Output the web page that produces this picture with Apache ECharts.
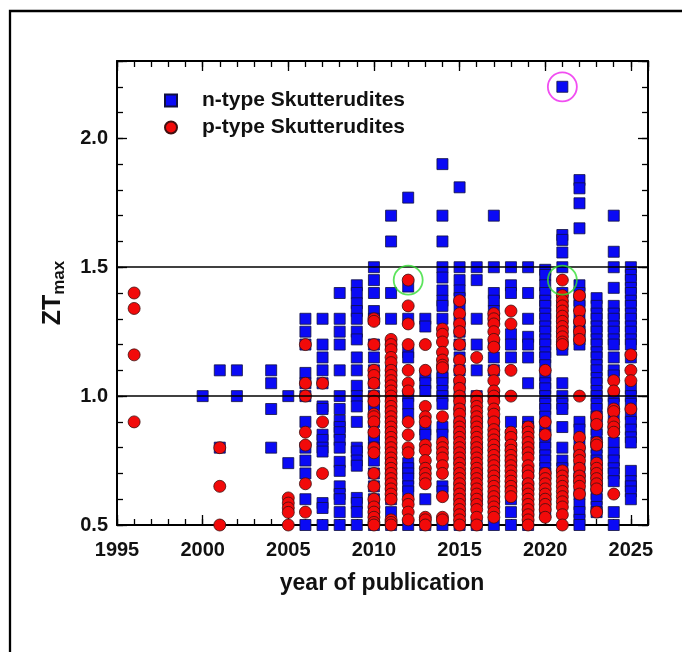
<!DOCTYPE html>
<html><head><meta charset="utf-8">
<script src="https://cdn.jsdelivr.net/npm/echarts@6/dist/echarts.min.js"></script>
<style>html,body{margin:0;padding:0;background:#fff}#c{width:682px;height:652px}</style>
</head><body><div id="c"></div>
<script>
// ---- data ----
const nYears = [2000,2001,2002,2004,2005,2006,2007,2008,2009,2010,2011,2012,2013,2014,2015,2016,2017,2018,2019,2020,2021,2022,2023,2024,2025];
const nValues = [
 [1.00],
 [1.10,0.80],
 [1.10,1.00],
 [1.10,1.05,0.95,0.80],
 [1.00,0.74],
 [1.30,1.25,1.20,1.09,1.05,1.00,0.90,0.80,0.75,0.70,0.60,0.50],
 [1.30,1.20,1.15,1.10,1.05,0.96,0.95,0.85,0.83,0.80,0.785,0.585,0.566,0.50],
 [1.40,1.30,1.25,1.20,1.10,1.00,0.95,0.905,0.88,0.86,0.83,0.80,0.745,0.71,0.65,0.62,0.60,0.55,0.50],
 [1.43,1.40,1.36,1.33,1.30,1.25,1.22,1.15,1.10,1.04,1.00,0.96,0.90,0.80,0.785,0.75,0.73,0.605,0.585,0.55,0.50],
 [1.50,1.45,1.40,1.33,1.30,1.20,1.15,1.10,1.05,1.00,0.97,0.95,0.90,0.85,0.83,0.80,0.75,0.70,0.65,0.60,0.55,0.50],
 [1.70,1.60,1.40,1.30,1.20,1.10,1.05,1.00,0.95,0.90,0.85,0.80,0.75,0.70,0.65,0.60,0.55,0.50],
 [1.77,1.425,1.30,1.17,1.15,1.00,0.97,0.93,0.74,0.72,0.70,0.68,0.65,0.63,0.50],
 [1.30,1.27,1.08,1.05,1.02,0.87,0.85,0.60,0.50],
 [1.90,1.70,1.60,1.50,1.46,1.41,1.37,1.35,1.30,1.09,1.07,1.05,1.02,1.00,0.97,0.88,0.85,0.65,0.63,0.50],
 [1.81,1.50,1.45,1.41,1.38,1.35,1.30,1.25,1.20,1.15,1.10,1.05,1.00,0.95,0.90,0.85,0.80,0.75,0.70,0.65,0.60,0.55,0.50],
 [1.50,1.45,1.30,1.20,1.10,1.00,0.90,0.80,0.70,0.60,0.50],
 [1.70,1.50,1.40,1.37,1.33,1.30,1.20,1.15,1.10,1.00,0.90,0.85,0.80,0.75,0.70,0.60,0.50],
 [1.50,1.43,1.40,1.24,1.20,1.15,0.90,0.85,0.80,0.75,0.65,0.60,0.55,0.50],
 [1.50,1.40,1.30,1.23,1.20,1.15,1.05,0.90,0.88,0.80,0.70,0.65,0.55,0.50],
 [1.49,1.47,1.43,1.40,1.37,1.35,1.32,1.30,1.27,1.25,1.22,1.20,1.17,1.15,1.12,1.08,1.05,1.03,1.00,0.97,0.95,0.92,0.88,0.85,0.82,0.80,0.77,0.75,0.72,0.70,0.60,0.55],
 [2.20,1.625,1.606,1.557,1.50,1.40,1.35,1.30,1.25,1.20,1.18,1.05,1.00,0.97,0.95,0.88,0.80,0.75,0.72],
 [1.838,1.806,1.748,1.651,1.43,1.40,1.37,1.35,1.30,1.27,1.25,1.22,1.20,0.90,0.87,0.82,0.78,0.72,0.68,0.62,0.58,0.55,0.52,0.50],
 [1.38,1.35,1.32,1.30,1.27,1.25,1.22,1.20,1.17,1.15,1.12,1.10,1.07,1.05,1.02,1.00,0.97,0.95,0.92,0.90,0.87,0.85,0.82,0.80,0.77,0.75,0.72,0.70,0.67,0.65,0.62,0.60,0.57,0.55],
 [1.70,1.56,1.50,1.42,1.35,1.32,1.30,1.27,1.25,1.22,1.20,1.15,1.10,1.08,1.00,0.97,0.93,0.87,0.82,0.78,0.75,0.72,0.70,0.67,0.55,0.50],
 [1.50,1.47,1.45,1.42,1.40,1.37,1.35,1.32,1.30,1.27,1.25,1.22,1.20,1.15,1.03,1.00,0.97,0.93,0.90,0.87,0.84,0.82,0.71,0.67,0.65,0.63,0.60]
];
const pYears = [1996,2001,2005,2006,2007,2010,2011,2012,2013,2014,2015,2016,2017,2018,2019,2020,2021,2022,2023,2024,2025];
const pValues = [
 [1.40,1.34,1.16,0.90],
 [0.80,0.65,0.50],
 [0.605,0.585,0.566,0.549,0.50],
 [1.20,1.05,1.00,0.86,0.81,0.66,0.55],
 [1.05,0.90,0.70],
 [1.30,1.29,1.20,1.10,1.08,1.05,1.00,0.98,0.93,0.92,0.90,0.86,0.80,0.78,0.70,0.65,0.60,0.57,0.55,0.53,0.51,0.50],
 [1.22,1.20,1.18,1.15,1.13,1.10,1.08,1.06,1.04,1.02,1.00,0.98,0.96,0.94,0.92,0.90,0.88,0.86,0.84,0.82,0.80,0.78,0.76,0.74,0.72,0.70,0.68,0.66,0.64,0.62,0.60,0.52,0.51,0.50],
 [1.45,1.35,1.28,1.20,1.10,1.05,1.02,0.90,0.85,0.80,0.78,0.60,0.58,0.55,0.52],
 [1.20,1.10,0.96,0.92,0.90,0.81,0.79,0.75,0.72,0.70,0.68,0.66,0.53,0.52,0.50],
 [1.26,1.24,1.21,1.17,1.14,1.12,1.11,0.92,0.82,0.80,0.78,0.76,0.73,0.70,0.61,0.53,0.52],
 [1.37,1.32,1.28,1.25,1.20,1.14,1.10,1.06,1.03,1.00,0.98,0.95,0.93,0.90,0.88,0.86,0.84,0.82,0.80,0.78,0.76,0.74,0.72,0.70,0.68,0.66,0.64,0.62,0.60,0.58,0.56,0.54,0.52,0.50],
 [1.15,1.00,0.98,0.96,0.94,0.92,0.90,0.88,0.86,0.84,0.82,0.80,0.78,0.76,0.74,0.72,0.70,0.68,0.66,0.64,0.62,0.60,0.58,0.56,0.53,0.50],
 [1.32,1.30,1.28,1.25,1.22,1.19,1.10,1.06,1.02,1.00,0.98,0.95,0.93,0.90,0.87,0.85,0.83,0.81,0.79,0.77,0.75,0.73,0.71,0.69,0.67,0.65,0.63,0.61,0.59,0.57,0.55,0.53],
 [1.33,1.28,1.10,1.00,0.86,0.84,0.81,0.79,0.77,0.75,0.73,0.71,0.69,0.67,0.65,0.63,0.61],
 [0.88,0.86,0.84,0.82,0.80,0.78,0.76,0.73,0.71,0.69,0.66,0.64,0.62,0.60,0.58,0.56,0.54,0.52,0.50],
 [1.10,0.90,0.85,0.70,0.68,0.66,0.64,0.62,0.60,0.58,0.56,0.53],
 [1.45,1.39,1.37,1.35,1.33,1.31,1.29,1.27,1.25,1.23,1.21,1.20,0.71,0.69,0.67,0.65,0.63,0.61,0.59,0.57,0.54,0.50],
 [1.39,1.33,1.29,1.25,1.22,1.00,0.84,0.80,0.77,0.75,0.72,0.69,0.67,0.65,0.62],
 [0.92,0.89,0.82,0.81,0.74,0.72,0.70,0.68,0.66,0.64,0.55],
 [1.06,1.02,0.95,0.94,0.90,0.88,0.86,0.62],
 [1.16,1.10,1.06,0.95]
];
const magentaMarks = [[2021, 2.20]];
const greenMarks = [[2012, 1.45], [2021, 1.45]];
const refLines = [1.0, 1.5];
const xLabelYears = [1995, 2000, 2005, 2010, 2015, 2020, 2025];
const yLabelValues = [0.5, 1.0, 1.5, 2.0];

// ---- build ----
function flatten(years, vals) {
  const out = [];
  years.forEach((y, i) => vals[i].forEach(v => out.push([y, v])));
  return out;
}
const nData = flatten(nYears, nValues);
const pData = flatten(pYears, pValues);

const FONT = '"Liberation Sans", Arial, sans-serif';
const near = (a, b) => Math.abs(a - b) < 1e-6;

function xAx(pos, interval, len, labels, line) {
  return {
    type: 'value', position: pos, min: 1995, max: 2026, interval: interval,
    axisLine: { show: line, onZero: false, lineStyle: { color: '#000', width: 2 } },
    axisTick: { show: true, inside: true, length: len, lineStyle: { color: '#000', width: 1.3 } },
    axisLabel: labels ? {
      show: true, margin: 15, color: '#111', fontFamily: FONT, fontWeight: 'bold', fontSize: 20,
      formatter: v => xLabelYears.some(y => near(y, v)) ? String(Math.round(v)) : ''
    } : { show: false },
    splitLine: { show: false }
  };
}
function yAx(pos, interval, len, labels, line) {
  return {
    type: 'value', position: pos, min: 0.5, max: 2.3, interval: interval,
    axisLine: { show: line, onZero: false, lineStyle: { color: '#000', width: 2 } },
    axisTick: { show: true, inside: true, length: len, lineStyle: { color: '#000', width: 1.3 } },
    axisLabel: labels ? {
      show: true, margin: 9, color: '#111', fontFamily: FONT, fontWeight: 'bold', fontSize: 20,
      formatter: v => yLabelValues.some(y => near(y, v)) ? v.toFixed(1) : ''
    } : { show: false },
    splitLine: { show: false }
  };
}

const chart = echarts.init(document.getElementById('c'), null, { renderer: 'canvas' });
chart.setOption({
  backgroundColor: '#fff',
  animation: false,
  grid: { left: 117, top: 61, right: 34, bottom: 127, containLabel: false },
  xAxis: [
    xAx('bottom', 1, 6, true, true),
    xAx('bottom', 5, 10, false, false),
    xAx('top', 1, 6, false, true),
    xAx('top', 5, 10, false, false)
  ],
  yAxis: [
    yAx('left', 0.1, 6, true, true),
    yAx('left', 0.5, 10, false, false),
    yAx('right', 0.1, 6, false, true),
    yAx('right', 0.5, 10, false, false)
  ],
  legend: {
    orient: 'vertical', left: 159, top: 85, itemGap: 6,
    itemWidth: 12, itemHeight: 12,
    textStyle: { fontFamily: FONT, fontWeight: 'bold', fontSize: 21, color: '#111', padding: [0, 0, 0, 20] },
    data: [
      { name: 'n-type Skutterudites', icon: 'rect' },
      { name: 'p-type Skutterudites', icon: 'circle' }
    ]
  },
  graphic: [
    { type: 'rect', shape: { x: 10, y: 11, width: 720, height: 720 },
      style: { fill: 'none', stroke: '#000', lineWidth: 2.3 }, silent: true },
    { type: 'text', x: 53, y: 293, rotation: Math.PI / 2, silent: true,
      style: {
        text: '{a|ZT}{b|max}', align: 'center', verticalAlign: 'middle',
        rich: {
          a: { fontFamily: FONT, fontWeight: 'bold', fontSize: 25, fill: '#111' },
          b: { fontFamily: FONT, fontWeight: 'bold', fontSize: 17, fill: '#111', padding: [12, 0, 0, 0] }
        }
      } },
    { type: 'text', x: 382, y: 584, silent: true,
      style: { text: 'year of publication', align: 'center', verticalAlign: 'middle',
        fontFamily: FONT, fontWeight: 'bold', fontSize: 23, fill: '#111' } }
  ],
  series: [
    {
      name: 'n-type Skutterudites', type: 'scatter', symbol: 'rect', symbolSize: 11,
      data: nData, silent: true,
      itemStyle: { color: '#0a0af5', borderColor: '#101040', borderWidth: 0.8, opacity: 1 }
    },
    {
      name: 'p-type Skutterudites', type: 'scatter', symbol: 'circle', symbolSize: 12,
      data: pData, silent: true,
      itemStyle: { color: '#f20a0a', borderColor: '#401010', borderWidth: 0.8, opacity: 1 }
    },
    {
      name: 'ref', type: 'scatter', data: [], silent: true, z: 5,
      markLine: {
        silent: true, symbol: 'none', label: { show: false },
        lineStyle: { color: '#000', width: 1.5, type: 'solid' },
        data: refLines.map(v => ({ yAxis: v }))
      }
    },
    {
      name: 'magenta', type: 'scatter', symbol: 'circle', symbolSize: 29, silent: true, z: 6,
      data: magentaMarks,
      itemStyle: { color: 'rgba(0,0,0,0)', borderColor: '#ee22ee', borderWidth: 1.8 }
    },
    {
      name: 'green', type: 'scatter', symbol: 'circle', symbolSize: 29, silent: true, z: 6,
      data: greenMarks,
      itemStyle: { color: 'rgba(0,0,0,0)', borderColor: '#33dd33', borderWidth: 1.8 }
    }
  ]
});
</script></body></html>
